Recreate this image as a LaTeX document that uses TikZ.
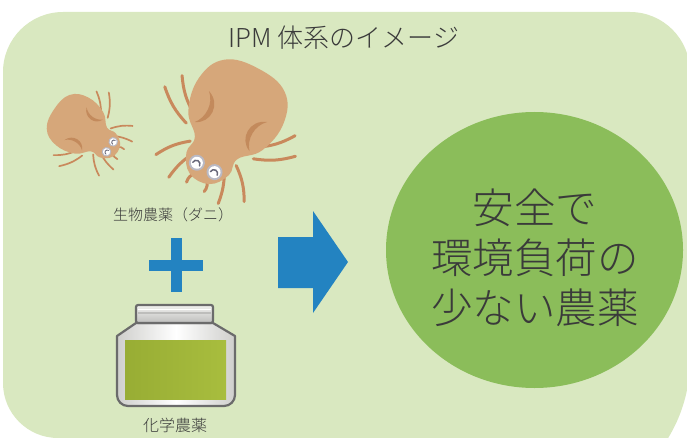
\documentclass[tikz,border=0pt]{standalone}
\usepackage{fontspec}
\setmainfont{Noto Sans CJK JP}[UprightFont=* Light]
\usetikzlibrary{shapes.geometric}

\definecolor{bggreen}{HTML}{D9E8C0}
\definecolor{okgreen}{HTML}{8BBD5A}
\definecolor{arrowblue}{HTML}{2383C1}
\definecolor{inkgray}{HTML}{3A3A3A}
\definecolor{mitebodyc}{HTML}{D6A77A}
\definecolor{legbrown}{HTML}{C9895C}
\definecolor{markbrown}{HTML}{C38A5C}
\definecolor{eyeringc}{HTML}{B9B9C4}
\definecolor{eyemarkc}{HTML}{68687A}
\definecolor{jaredge}{HTML}{6B6B6B}
\definecolor{jarshade}{HTML}{CFCFCC}
\definecolor{labeldark}{HTML}{98AD34}
\definecolor{labellight}{HTML}{A8BD3E}
\definecolor{lidlight}{HTML}{F2F2F0}
\definecolor{liddark}{HTML}{BDBDBB}

\tikzset{
  caption/.style={text=inkgray, inner sep=0pt},
  miteleg/.style={draw=legbrown, line width=3pt, line cap=round},
  mitebody/.style={fill=mitebodyc},
  mitemark/.style={fill=markbrown},
  eyering/.style={fill=eyeringc},
  eyemark/.style={draw=eyemarkc, line width=1.5pt, line cap=round},
  jarline/.style={draw=jaredge, line width=2.2pt, line join=round},
  pics/mite/.style={code={
    % legs, one side mirrored onto the other
    \foreach \s in {1,-1}{
      \begin{scope}[xscale=\s]
        \draw[miteleg] (36,-14) to[bend right=12] (64,14);
        \draw[miteleg] (38,-26) to[bend right=12] (74,-4);
        \draw[miteleg] (26,-40) to[bend left=12] (50,-68);
        \draw[miteleg] (18,-50) to[bend left=10] (28,-82);
        \draw[miteleg] (6,-66) to[bend left=30] (10,-78);
      \end{scope}
    }
    % body with head
    \fill[mitebody] plot[smooth cycle, tension=0.7] coordinates {
      (0,56) (34,48) (48,20) (42,-14) (24,-34) (24,-52) (11,-69)
      (-11,-69) (-24,-52) (-24,-34) (-42,-14) (-48,20) (-34,48)};
    % shoulder marks and eyes
    \foreach \s in {1,-1}{
      \begin{scope}[xscale=\s]
        \fill[mitemark] (-33,13) .. controls (-16,7) and (-16,-15) .. (-31,-21)
                         .. controls (-23,-12) and (-23,4) .. cycle;
        \fill[eyering] (10,-56) circle (8);
        \fill[white] (10,-56) circle (6);
        \draw[eyemark] (6.2,-57.5) arc[start angle=180, end angle=0, radius=3.8];
      \end{scope}
    }
  }}
}

\begin{document}
\begin{tikzpicture}[x=1pt, y=1pt]
\useasboundingbox (0,0) rectangle (687,437);

% panel
\begin{scope}
  \clip (0,0) rectangle (687,437);
  \fill[bggreen] (3,365) arc[start angle=180, end angle=90, radius=60]
    -- (630,425) arc[start angle=90, end angle=0, radius=60]
    -- (690,77) arc[start angle=0, end angle=-90, radius=150]
    -- (58,-73) -- (58,-1) arc[start angle=270, end angle=180, radius=55]
    -- cycle;
\end{scope}

\node[caption, font=\fontsize{26}{30}\selectfont] (title) at (344,399) {IPM 体系のイメージ};

% mites
\pic[rotate=56, scale=0.6,
    miteleg/.style={draw=legbrown, line width=1.7pt, line cap=round},
    eyemark/.style={draw=eyemarkc, line width=0.9pt, line cap=round}]
  (smallmite) at (82,309) {mite};
\pic[rotate=-28] (bigmite) at (232,319) {mite};

\node[caption, font=\fontsize{15}{18}\selectfont] (mitelabel) at (173,222) {生物農薬（ダニ）};

% plus sign
\fill[arrowblue] (149,166) rectangle (203,177);
\fill[arrowblue] (171,145) rectangle (182,199);

% jar
\draw[jarline, left color=jarshade, right color=jarshade, middle color=white]
  (136,114) -- (117,101) -- (117,42) to[out=-90, in=180] (128,31)
  -- (224,31) to[out=0, in=-90] (235,42) -- (235,101) -- (213,114) -- cycle;
\fill[left color=labeldark, right color=labellight] (125,38) rectangle (226,97);
\draw[jarline, top color=lidlight, bottom color=liddark, rounded corners=2]
  (136,114) rectangle (213,132);
\draw[line width=1.2pt, draw=liddark] (138,124) -- (211,124);
\draw[line width=0.8pt, draw=white] (138,128) -- (211,128);

\node[caption, font=\fontsize{16}{19}\selectfont] (jarlabel) at (175,12) {化学農薬};

% arrow
\fill[arrowblue] (278,200) -- (313,200) -- (313,226) -- (348,175)
  -- (313,124) -- (313,149) -- (278,149) -- cycle;

% outcome
\node[ellipse, fill=okgreen, minimum width=297, minimum height=276, inner sep=0pt]
  (result) at (534.5,187) {};
\node[caption, align=center, font=\fontsize{41.5}{50}\selectfont] (resulttext) at (535,179)
  {安全で\\環境負荷の\\少ない農薬};
\end{tikzpicture}
\end{document}
